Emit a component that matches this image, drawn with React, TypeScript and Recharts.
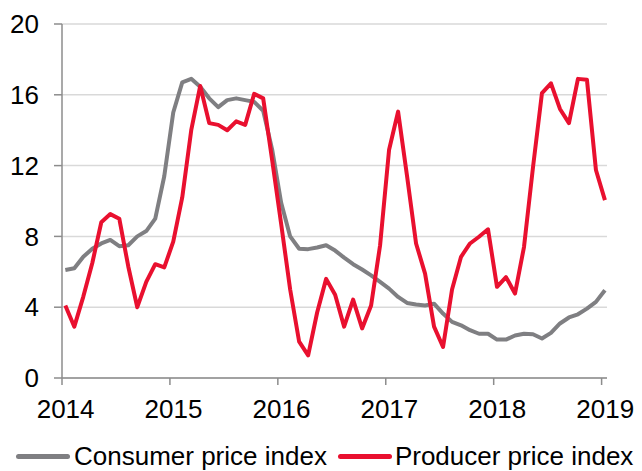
import { LineChart, Line, XAxis, YAxis, CartesianGrid, Legend } from 'recharts'

const YEARS = [2014, 2015, 2016, 2017, 2018, 2019]
const Y_TICKS = [0, 4, 8, 12, 16, 20]

// monthly, Jan 2014 .. Jan 2019 (% y/y)
const CPI = [
  6.1, 6.2, 6.85, 7.3, 7.6, 7.8, 7.45, 7.5, 8.0, 8.3, 9.0, 11.4,
  15.0, 16.7, 16.9, 16.45, 15.8, 15.3, 15.7, 15.8, 15.7, 15.6, 15.1, 12.9,
  9.9, 8.0, 7.3, 7.28, 7.37, 7.5, 7.2, 6.8, 6.43, 6.13, 5.8, 5.43,
  5.05, 4.58, 4.24, 4.15, 4.1, 4.2, 3.64, 3.17, 2.98, 2.7, 2.5, 2.5,
  2.17, 2.17, 2.4, 2.5, 2.47, 2.23, 2.55, 3.08, 3.42, 3.6, 3.92, 4.3,
  4.96,
]
const PPI = [
  4.1, 2.9, 4.6, 6.5, 8.8, 9.26, 9.0, 6.3, 4.0, 5.43, 6.43, 6.25,
  7.7, 10.2, 14.0, 16.5, 14.4, 14.3, 14.0, 14.5, 14.3, 16.05, 15.8, 12.3,
  8.7, 5.0, 2.05, 1.28, 3.7, 5.6, 4.7, 2.9, 4.43, 2.8, 4.1, 7.5,
  12.9, 15.05, 11.4, 7.6, 5.9, 2.9, 1.75, 5.0, 6.85, 7.6, 7.98, 8.4,
  5.15, 5.7, 4.77, 7.4, 11.9, 16.1, 16.65, 15.2, 14.4, 16.9, 16.85, 11.75,
  10.05,
]

const SERIES = [
  { key: 'cpi', name: 'Consumer price index', color: '#7f7f82' },
  { key: 'ppi', name: 'Producer price index', color: '#e9102f' },
]

const FONT = '"Liberation Sans", Arial, sans-serif'
const AXIS = '#8c8c8c'

// points sit a bit right of the January tick
const data = CPI.map((v, i) => ({ x: i + 0.37, cpi: v, ppi: PPI[i] }))

function YearTick(props: any) {
  const { x, y, payload } = props
  return (
    <text x={x + 3.6} y={y + 31} textAnchor="middle" fontSize={26} fontFamily={FONT} fill="#000">
      {YEARS[payload.value / 12]}
    </text>
  )
}

function ChartLegend() {
  return (
    <div style={{ height: 40, width: 642, display: 'flex', alignItems: 'flex-end', whiteSpace: 'nowrap' }}>
      {SERIES.map((s, i) => (
        <div key={s.key} style={{ display: 'flex', alignItems: 'center', height: 30, marginLeft: i === 0 ? 16 : 11 }}>
          <span style={{ display: 'inline-block', width: 54, height: 5, borderRadius: 3, background: s.color, marginRight: i === 0 ? 4 : 3 }} />
          <span style={{ fontFamily: FONT, fontSize: 26, lineHeight: '30px', color: '#000' }}>{s.name}</span>
        </div>
      ))}
    </div>
  )
}

export default function App() {
  document.body.style.margin = '0'
  return (
    <div style={{ width: 642, height: 471, overflow: 'hidden', background: '#fff' }}>
      <LineChart width={642} height={471} data={data} margin={{ top: 24, right: 35, left: 0, bottom: 0 }}>
        <CartesianGrid vertical={false} stroke="#d9d9d9" strokeWidth={1.5} />
        <XAxis
          dataKey="x"
          type="number"
          domain={[0, 60.6]}
          ticks={YEARS.map((_, i) => i * 12)}
          allowDataOverflow
          height={53}
          tickSize={7}
          stroke={AXIS}
          strokeWidth={1.5}
          tick={<YearTick />}
        />
        <YAxis
          domain={[0, 20]}
          ticks={Y_TICKS}
          width={62}
          tickSize={8}
          tickMargin={15}
          stroke={AXIS}
          strokeWidth={1.5}
          tick={{ fontSize: 26, fontFamily: FONT, fill: '#000' }}
        />
        <Legend verticalAlign="bottom" height={40} wrapperStyle={{ left: 0, width: 642 }} content={<ChartLegend />} />
        {SERIES.map((s) => (
          <Line
            key={s.key}
            dataKey={s.key}
            name={s.name}
            stroke={s.color}
            strokeWidth={4}
            strokeLinejoin="round"
            dot={false}
            isAnimationActive={false}
          />
        ))}
      </LineChart>
    </div>
  )
}
